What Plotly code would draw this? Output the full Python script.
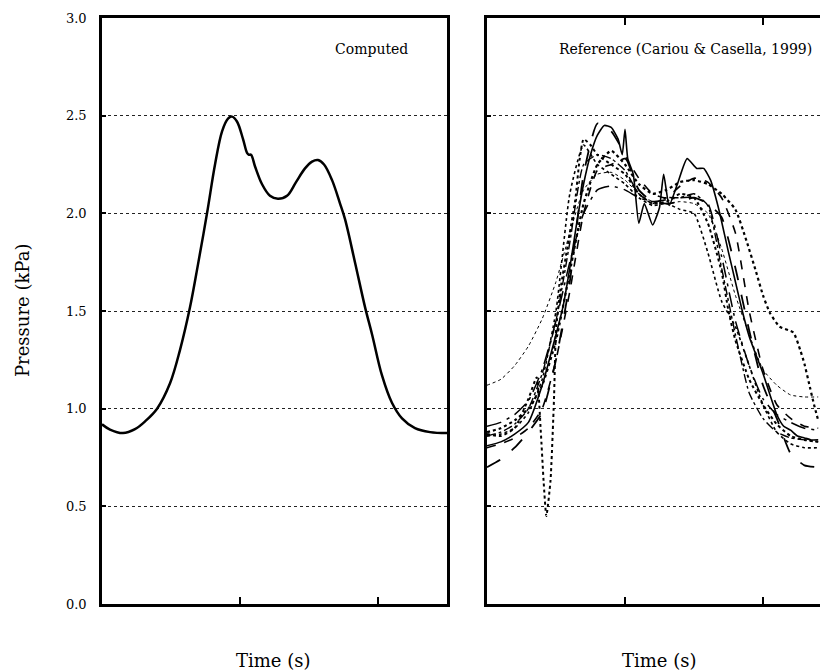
import plotly.graph_objects as go

# ---------------- data ----------------
# Computed pressure history (left panel)
comp_t = [0.00, 0.058, 0.152, 0.239, 0.312, 0.399, 0.493, 0.565, 0.638, 0.696, 0.761, 0.819,
          0.870, 0.913, 0.942, 0.978, 1.022, 1.051, 1.065, 1.080, 1.109, 1.159, 1.217, 1.275,
          1.341, 1.406, 1.471, 1.522, 1.565, 1.609, 1.667, 1.725, 1.761, 1.833, 1.906, 1.957,
          2.029, 2.101, 2.174, 2.268, 2.377, 2.500]
comp_p = [0.92, 0.893, 0.875, 0.895, 0.935, 1.00, 1.13, 1.30, 1.52, 1.74, 2.00, 2.25,
          2.42, 2.485, 2.495, 2.47, 2.38, 2.31, 2.30, 2.30, 2.24, 2.15, 2.09, 2.075,
          2.09, 2.16, 2.23, 2.265, 2.273, 2.25, 2.17, 2.05, 1.97, 1.75, 1.52, 1.38,
          1.17, 1.03, 0.95, 0.90, 0.88, 0.875]

# Reference records (right panel)
grid_t = [0.0, 0.1, 0.2, 0.3, 0.4, 0.5, 0.6, 0.7, 0.8, 0.9, 1.0, 1.1, 1.2,
          1.3, 1.4, 1.5, 1.6, 1.7, 1.8, 1.9, 2.0, 2.1, 2.2, 2.3, 2.4]

refA_t = [0.0, 0.1, 0.2, 0.3, 0.4, 0.5, 0.55, 0.6, 0.65, 0.7, 0.75, 0.8, 0.85, 0.9, 0.95,
          0.98, 1.0, 1.02, 1.06, 1.1, 1.14, 1.2, 1.25, 1.28, 1.32, 1.38, 1.45, 1.52, 1.57,
          1.62, 1.68, 1.75, 1.8, 1.85, 1.9, 2.0, 2.1, 2.15, 2.2, 2.25, 2.3, 2.35, 2.4]
refA_p = [0.81, 0.83, 0.87, 0.93, 1.12, 1.38, 1.52, 1.72, 1.95, 2.15, 2.30, 2.40, 2.45, 2.44, 2.38,
          2.30, 2.43, 2.28, 2.20, 1.95, 2.05, 1.94, 2.03, 2.20, 2.04, 2.15, 2.28, 2.23, 2.23,
          2.17, 2.02, 1.80, 1.65, 1.50, 1.37, 1.18, 0.97, 0.91, 0.89, 0.86, 0.85, 0.84, 0.84]

refB_p = [0.70, 0.74, 0.80, 0.88, 0.98, 1.25, 1.65, 2.20, 2.46, 2.42, 2.30, 2.12, 2.06,
          2.05, 2.06, 2.08, 2.05, 1.98, 1.72, 1.40, 1.12, 0.95, 0.77, 0.71, 0.70]
refC_p = [1.12, 1.15, 1.22, 1.32, 1.46, 1.65, 1.90, 2.12, 2.20, 2.21, 2.17, 2.10, 2.06,
          2.05, 2.06, 2.05, 2.00, 1.82, 1.58, 1.38, 1.20, 1.12, 1.07, 1.06, 1.06]
refD_p = [0.91, 0.93, 0.97, 1.04, 1.20, 1.45, 1.75, 2.00, 2.12, 2.14, 2.12, 2.08, 2.06,
          2.07, 2.08, 2.08, 2.05, 1.78, 1.45, 1.22, 1.05, 0.97, 0.93, 0.90, 0.89]
refG_p = [0.86, 0.87, 0.90, 0.98, 1.15, 1.50, 2.10, 2.35, 2.25, 2.20, 2.15, 2.08, 2.04,
          2.05, 2.02, 2.00, 1.80, 1.55, 1.42, 1.22, 1.02, 0.88, 0.82, 0.80, 0.80]
refH_p = [0.86, 0.88, 0.92, 1.00, 1.18, 1.45, 1.85, 2.25, 2.30, 2.28, 2.22, 2.10, 2.05,
          2.08, 2.08, 2.10, 2.04, 1.72, 1.38, 1.08, 0.95, 0.88, 0.85, 0.84, 0.83]
refI_p = [0.80, 0.82, 0.85, 0.90, 1.00, 1.25, 1.60, 2.00, 2.22, 2.25, 2.28, 2.18, 2.10,
          2.08, 2.14, 2.18, 2.16, 2.08, 1.90, 1.50, 1.20, 1.02, 0.95, 0.91, 0.90]

refE_t = [0.0, 0.1, 0.2, 0.3, 0.36, 0.39, 0.41, 0.43, 0.46, 0.485, 0.5, 0.53, 0.6, 0.64,
          0.67, 0.7, 0.75, 0.8, 0.9, 1.0, 1.1, 1.2, 1.3, 1.4, 1.5, 1.6, 1.7, 1.75, 1.8,
          1.9, 2.0, 2.1, 2.2, 2.3, 2.4]
refE_p = [0.87, 0.86, 0.90, 1.05, 1.16, 0.88, 0.63, 0.45, 0.63, 1.04, 1.40, 1.60, 1.90, 2.07,
          2.27, 2.38, 2.35, 2.30, 2.25, 2.20, 2.10, 2.05, 2.06, 2.10, 2.08, 1.95, 1.70, 1.50, 1.35,
          1.15, 1.02, 0.92, 0.86, 0.84, 0.83]

refF_t = [0.0, 0.1, 0.2, 0.3, 0.4, 0.5, 0.6, 0.7, 0.8, 0.9, 1.0, 1.1, 1.2, 1.3, 1.4, 1.5,
          1.6, 1.7, 1.8, 1.88, 1.95, 2.0, 2.05, 2.12, 2.22, 2.27, 2.3, 2.34, 2.37, 2.4]
refF_p = [0.88, 0.90, 0.94, 1.00, 1.12, 1.35, 1.70, 2.05, 2.25, 2.32, 2.25, 2.15, 2.10, 2.12,
          2.16, 2.17, 2.15, 2.10, 2.02, 1.86, 1.70, 1.58, 1.49, 1.42, 1.39, 1.30, 1.23, 1.11,
          1.02, 0.94]

y_ticks = [0.0, 0.5, 1.0, 1.5, 2.0, 2.5, 3.0]
y_labels = ["0.0", "0.5", "1.0", "1.5", "2.0", "2.5", "3.0"]
x_ticks = [1.0, 2.0]

FONT = "DejaVu Serif"

fig = go.Figure()

fig.add_trace(go.Scatter(x=comp_t, y=comp_p, mode="lines",
                         line=dict(color="black", width=2.5, shape="spline", smoothing=1.0),
                         xaxis="x", yaxis="y", showlegend=False))

ref_series = [
    (refA_t, refA_p, "solid", 1.6),
    (grid_t, refB_p, "longdash", 1.8),
    (grid_t, refC_p, "dot", 1.0),
    (grid_t, refD_p, "longdashdot", 1.5),
    (refE_t, refE_p, "dot", 2.0),
    (refF_t, refF_p, "dot", 2.2),
    (grid_t, refG_p, "dot", 1.6),
    (grid_t, refH_p, "dashdot", 1.4),
    (grid_t, refI_p, "dash", 1.6),
]
for t, p, dash, w in ref_series:
    fig.add_trace(go.Scatter(x=t, y=p, mode="lines",
                             line=dict(color="black", width=w, dash=dash, shape="spline", smoothing=0.5),
                             xaxis="x2", yaxis="y2", showlegend=False))

common_y = dict(range=[0, 3.0], tickvals=y_ticks, ticktext=y_labels, ticks="inside", ticklen=4,
                tickwidth=1.5, tickcolor="black", showline=True, linecolor="black", linewidth=2.5,
                showgrid=True, gridcolor="#222", gridwidth=1, griddash="dot", zeroline=False,
                tickfont=dict(family=FONT, size=13, color="black"), domain=[0, 1])
common_x = dict(tickvals=x_ticks, ticks="inside", ticklen=7, tickwidth=2, tickcolor="black",
                showline=True, linecolor="black", linewidth=2.5, showgrid=False, zeroline=False,
                showticklabels=False)

fig.update_layout(
    width=820, height=671,
    margin=dict(l=0, r=0, t=18, b=67),
    paper_bgcolor="white", plot_bgcolor="white",
    xaxis=dict(**common_x, range=[0, 2.5], domain=[102/820, 447/820], mirror=True, anchor="y"),
    yaxis=dict(**common_y, mirror=True, anchor="x", ticklabelstandoff=10),
    xaxis2=dict(**common_x, range=[0, 333/138], domain=[487/820, 1.0], mirror="ticks", anchor="y2"),
    yaxis2=dict(**common_y, mirror=False, anchor="x2", showticklabels=False),
    annotations=[
        dict(text="Computed", x=1.953, y=2.842, xref="x", yref="y", showarrow=False,
             xanchor="center", yanchor="middle",
             font=dict(family=FONT, size=14, color="black")),
        dict(text="Reference (Cariou & Casella, 1999)", x=1.438, y=2.842, xref="x2", yref="y2",
             xanchor="center", yanchor="middle",
             showarrow=False, font=dict(family=FONT, size=14, color="black")),
        dict(text="Pressure (kPa)", x=22/820, y=(604-311)/586, xref="paper", yref="paper",
             xanchor="center", yanchor="middle",
             showarrow=False, textangle=-90, font=dict(family=FONT, size=18, color="black")),
        dict(text="Time (s)", x=273/820, y=(604-660)/586, xref="paper", yref="paper",
             xanchor="center", yanchor="middle",
             showarrow=False, font=dict(family=FONT, size=18, color="black")),
        dict(text="Time (s)", x=659/820, y=(604-660)/586, xref="paper", yref="paper",
             xanchor="center", yanchor="middle",
             showarrow=False, font=dict(family=FONT, size=18, color="black")),
    ],
)

fig.write_html("out.html")
